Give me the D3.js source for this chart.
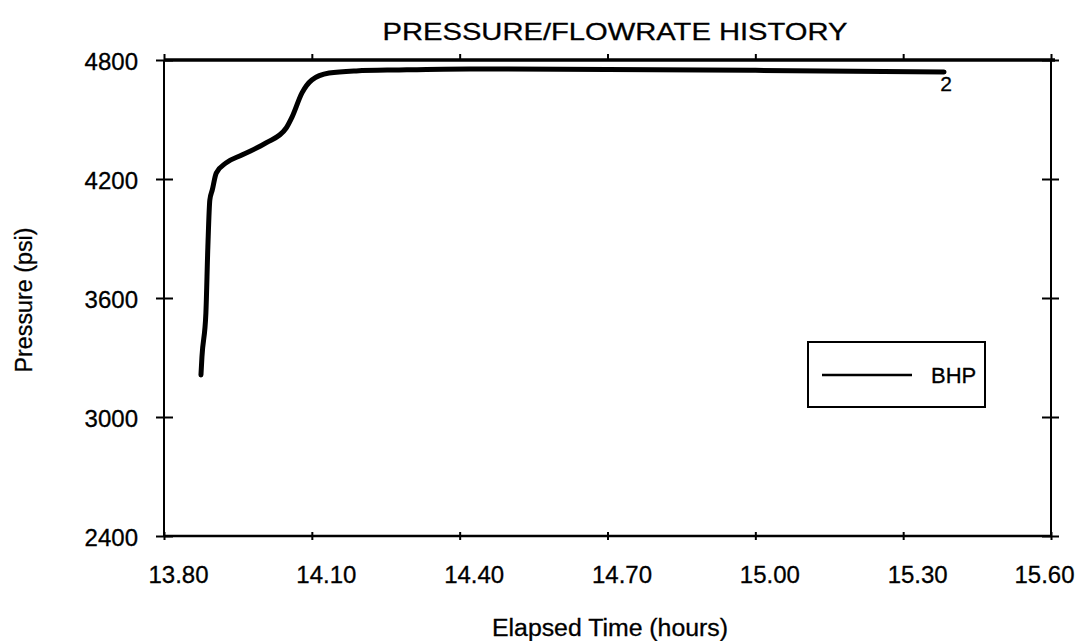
<!DOCTYPE html>
<html>
<head>
<meta charset="utf-8">
<script src="https://cdn.jsdelivr.net/npm/d3@7"></script>
<style>
  html, body { margin: 0; padding: 0; background: #fff; }
  svg { display: block; font-family: "Liberation Sans", Arial, Helvetica, sans-serif; }
</style>
</head>
<body>
<svg id="chart" width="1078" height="641"></svg>
<script>
// ---- data ----
const timeHours = [13.875, 13.877, 13.885, 13.889, 13.893, 13.898, 13.906, 13.926, 13.958, 14.007, 14.048, 14.060, 14.080, 14.100, 14.135, 14.190, 14.277, 14.420, 14.700, 15.000, 15.383];
const bhpPsi    = [3212,   3303,   3524,   3857,   4094,   4145,   4230,   4281,   4321,   4382,   4457,   4513,   4634,   4699,   4734,   4745,   4750,   4755,   4752,   4748,   4739];
const xTicks = [13.80, 14.10, 14.40, 14.70, 15.00, 15.30, 15.60];
const yTicks = [2400, 3000, 3600, 4200, 4800];
const seriesName = "BHP";
const endMarker = "2";
const titleText = "PRESSURE/FLOWRATE HISTORY";
const xLabel = "Elapsed Time  (hours)";
const yLabel = "Pressure (psi)";

// ---- layout ----
const svg = d3.select("#chart");
const L = 164, R = 1051, T = 60, B = 536;

const x = d3.scaleLinear().domain([13.80, 15.60]).range([L, R]);
const y = d3.scaleLinear().domain([2400, 4800]).range([B, T]);

// frame lines
svg.append("line").attr("x1", L).attr("x2", R + 4).attr("y1", T).attr("y2", T)
  .attr("stroke", "#000").attr("stroke-width", 3.5);
svg.append("line").attr("x1", L).attr("x2", R).attr("y1", B).attr("y2", B)
  .attr("stroke", "#000").attr("stroke-width", 2.5);
svg.append("line").attr("x1", L).attr("x2", L).attr("y1", T).attr("y2", B)
  .attr("stroke", "#000").attr("stroke-width", 2);
svg.append("line").attr("x1", R).attr("x2", R).attr("y1", T).attr("y2", B)
  .attr("stroke", "#000").attr("stroke-width", 2);

function styleAxis(g) {
  g.select(".domain").remove();
  g.selectAll(".tick line").attr("stroke", "#000").attr("stroke-width", 2);
}

// left axis with labels (ticks crossing)
const gL = svg.append("g").attr("transform", `translate(${L},0)`)
  .call(d3.axisLeft(y).tickValues(yTicks).tickSize(8).tickPadding(18).tickFormat(d3.format("d")));
styleAxis(gL);
gL.selectAll("text").attr("font-size", 24).attr("fill", "#000").attr("dy", "0.4em")
  .attr("stroke", "#000").attr("stroke-width", 0.3);
const gL2 = svg.append("g").attr("transform", `translate(${L},0)`)
  .call(d3.axisRight(y).tickValues(yTicks).tickSize(9).tickFormat(""));
styleAxis(gL2);

// right axis crossing ticks
const gR1 = svg.append("g").attr("transform", `translate(${R},0)`)
  .call(d3.axisRight(y).tickValues(yTicks).tickSize(8).tickFormat(""));
styleAxis(gR1);
const gR2 = svg.append("g").attr("transform", `translate(${R},0)`)
  .call(d3.axisLeft(y).tickValues(yTicks).tickSize(9).tickFormat(""));
styleAxis(gR2);

// bottom axis
const gB = svg.append("g").attr("transform", `translate(0,${B})`)
  .call(d3.axisBottom(x).tickValues(xTicks).tickSize(4).tickPadding(26).tickFormat(d3.format(".2f")));
styleAxis(gB);
gB.selectAll("text").attr("font-size", 24).attr("fill", "#000")
  .attr("stroke", "#000").attr("stroke-width", 0.3)
  .attr("dx", (d, i) => i === xTicks.length - 1 ? -7 : 14);
const gB2 = svg.append("g").attr("transform", `translate(0,${B})`)
  .call(d3.axisTop(x).tickValues(xTicks).tickSize(4).tickFormat(""));
styleAxis(gB2);

// top axis small ticks
const gT = svg.append("g").attr("transform", `translate(0,${T})`)
  .call(d3.axisTop(x).tickValues(xTicks).tickSize(6).tickFormat(""));
styleAxis(gT);

// title
svg.append("text").attr("x", 615).attr("y", 40).attr("text-anchor", "middle")
  .attr("font-size", 24).attr("textLength", 465).attr("lengthAdjust", "spacingAndGlyphs")
  .attr("stroke", "#000").attr("stroke-width", 0.3)
  .text(titleText);

// axis labels
svg.append("text").attr("x", 610).attr("y", 636).attr("text-anchor", "middle")
  .attr("font-size", 23).attr("textLength", 236).attr("lengthAdjust", "spacingAndGlyphs")
  .attr("stroke", "#000").attr("stroke-width", 0.3)
  .text(xLabel);
svg.append("text").attr("transform", "translate(32,300) rotate(-90)").attr("text-anchor", "middle")
  .attr("font-size", 23).attr("textLength", 145).attr("lengthAdjust", "spacingAndGlyphs")
  .attr("stroke", "#000").attr("stroke-width", 0.3)
  .text(yLabel);

// series line
const pts = timeHours.map((t, i) => [t, bhpPsi[i]]);
const line = d3.line().x(d => x(d[0])).y(d => y(d[1])).curve(d3.curveMonotoneX);
svg.append("path").datum(pts).attr("d", line)
  .attr("fill", "none").attr("stroke", "#000").attr("stroke-width", 5)
  .attr("stroke-linejoin", "round").attr("stroke-linecap", "round");

// end marker label
const last = pts[pts.length - 1];
svg.append("text").attr("x", x(last[0]) + 2).attr("y", y(last[1]) + 19)
  .attr("text-anchor", "middle").attr("font-size", 21)
  .attr("stroke", "#000").attr("stroke-width", 0.3).text(endMarker);

// legend
const lg = svg.append("g");
lg.append("rect").attr("x", 808).attr("y", 342).attr("width", 177).attr("height", 65)
  .attr("fill", "#fff").attr("stroke", "#000").attr("stroke-width", 2);
lg.append("line").attr("x1", 822).attr("x2", 912).attr("y1", 375).attr("y2", 375)
  .attr("stroke", "#000").attr("stroke-width", 2.5);
lg.append("text").attr("x", 931).attr("y", 383).attr("font-size", 22)
  .attr("stroke", "#000").attr("stroke-width", 0.3).text(seriesName);
</script>
</body>
</html>
